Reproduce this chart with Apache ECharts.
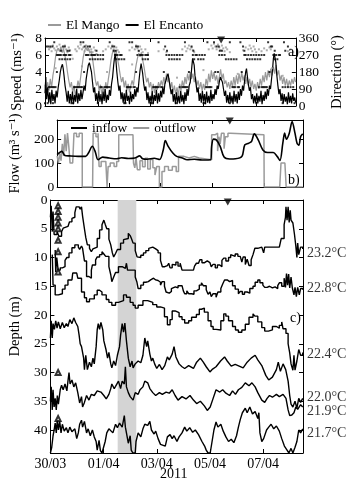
<!DOCTYPE html>
<html><head><meta charset="utf-8">
<script src="https://cdn.jsdelivr.net/npm/echarts@6/dist/echarts.min.js"></script>
<style>html,body{margin:0;padding:0;background:#fff}#c{width:353px;height:481px}</style>
</head><body><div id="c"></div>
<script>
// ---------- DATA (time in days since 30/03 00:00) ----------
const xTickDays = [0, 2, 4, 6, 8];
const xTickLabels = ['30/03', '01/04', '03/04', '05/04', '07/04'];
const markerDay = 6.67;           // ▼ marker
const shadeDays = [2.53, 3.23];   // grey band

// Panel a: wind speed (m/s)
const encantoSpeed = [
[0,1.5],[0.03,3.4],[0.06,0.8],[0.1,2.2],[0.14,0.4],[0.18,1.6],[0.22,0.2],[0.26,1.9],[0.3,0.6],[0.34,1.4],[0.38,0.3],[0.42,1.8],[0.46,1.0],[0.5,2.2],[0.54,3.0],[0.58,4.0],[0.62,4.6],[0.66,4.9],[0.69,4.4],[0.72,3.6],[0.76,2.4],[0.8,1.6],[0.84,0.5],[0.88,1.8],[0.92,0.3],[0.96,1.4],
[1.0,0.4],[1.04,1.7],[1.08,0.2],[1.12,1.3],[1.16,0.5],[1.2,2.0],[1.24,0.3],[1.28,1.5],[1.32,0.6],[1.36,1.9],[1.4,0.8],[1.44,1.6],[1.48,2.4],[1.52,1.8],[1.56,3.2],[1.6,4.0],[1.64,4.8],[1.68,5.1],[1.72,4.9],[1.76,4.0],[1.8,2.8],[1.84,1.6],[1.88,2.2],[1.92,0.6],[1.96,1.5],
[2.0,0.3],[2.04,1.8],[2.08,0.5],[2.12,1.4],[2.16,0.2],[2.2,1.7],[2.24,0.6],[2.28,2.0],[2.32,0.4],[2.36,1.3],[2.4,0.7],[2.44,1.9],[2.48,1.2],[2.52,2.6],[2.56,3.4],[2.6,4.8],[2.63,5.6],[2.66,6.1],[2.69,5.2],[2.72,4.0],[2.76,2.8],[2.8,1.8],[2.84,2.4],[2.88,0.8],[2.92,1.6],[2.96,0.4],
[3.0,1.5],[3.04,0.3],[3.08,1.9],[3.12,0.6],[3.16,1.2],[3.2,0.2],[3.24,1.7],[3.28,0.5],[3.32,1.4],[3.36,0.8],[3.4,2.0],[3.44,1.1],[3.48,2.2],[3.52,1.6],[3.56,3.0],[3.6,4.2],[3.64,5.0],[3.67,4.8],[3.7,3.8],[3.74,2.6],[3.78,1.8],[3.82,2.3],[3.86,0.7],[3.9,1.6],[3.94,0.3],[3.98,1.2],
[4.02,0.4],[4.06,1.8],[4.1,0.2],[4.14,1.3],[4.18,0.6],[4.22,1.9],[4.26,0.3],[4.3,1.5],[4.34,0.5],[4.38,1.8],[4.42,1.0],[4.46,2.2],[4.5,1.4],[4.54,2.6],[4.58,3.0],[4.62,3.5],[4.66,3.8],[4.7,3.0],[4.74,2.2],[4.78,1.4],[4.82,2.0],[4.86,0.5],[4.9,1.4],[4.94,0.2],[4.98,1.6],
[5.02,0.4],[5.06,1.2],[5.1,0.3],[5.14,1.8],[5.18,0.5],[5.22,1.3],[5.26,0.2],[5.3,1.6],[5.34,0.6],[5.38,2.0],[5.42,1.2],[5.46,2.4],[5.5,2.8],[5.53,3.6],[5.56,4.6],[5.59,5.6],[5.62,5.8],[5.65,4.8],[5.68,3.6],[5.72,2.6],[5.76,1.6],[5.8,2.2],[5.84,0.6],[5.88,1.5],[5.92,0.4],[5.96,1.8],
[6.0,0.5],[6.04,1.4],[6.08,0.2],[6.12,1.7],[6.16,0.4],[6.2,1.2],[6.24,0.3],[6.28,1.9],[6.32,0.6],[6.36,1.4],[6.4,0.8],[6.44,2.0],[6.48,1.3],[6.52,2.4],[6.56,2.0],[6.6,2.8],[6.64,3.4],[6.68,3.6],[6.72,2.8],[6.76,2.0],[6.8,1.2],[6.84,1.8],[6.88,0.4],[6.92,1.3],[6.96,0.3],
[7.0,1.6],[7.04,0.4],[7.08,1.2],[7.12,0.2],[7.16,1.8],[7.2,0.5],[7.24,1.4],[7.28,0.3],[7.32,1.7],[7.36,0.7],[7.4,2.0],[7.44,1.2],[7.48,2.4],[7.52,1.8],[7.56,3.0],[7.6,4.0],[7.63,4.4],[7.66,3.6],[7.7,2.6],[7.74,1.8],[7.78,2.2],[7.82,0.8],[7.86,1.4],[7.9,0.3],[7.94,1.2],[7.98,0.4],
[8.02,1.5],[8.06,0.3],[8.1,1.2],[8.14,0.5],[8.18,1.8],[8.22,0.2],[8.26,1.3],[8.3,0.6],[8.34,1.7],[8.38,0.8],[8.42,2.0],[8.46,1.2],[8.5,2.4],[8.54,2.0],[8.58,3.2],[8.62,4.4],[8.65,5.6],[8.68,6.2],[8.71,6.4],[8.74,5.2],[8.78,3.6],[8.82,2.4],[8.86,1.4],[8.9,2.0],[8.94,0.6],[8.98,1.5],
[9.02,0.3],[9.06,1.4],[9.1,0.5],[9.14,1.1],[9.18,0.2],[9.22,1.6],[9.26,0.4],[9.3,1.2],[9.34,0.3],[9.38,1.5],[9.42,0.6],[9.46,1.0],[9.49,0.4]
];
const mangoSpeed = [
[0,2.5],[0.05,1.5],[0.1,2.8],[0.15,1.8],[0.2,3.2],[0.25,2.2],[0.3,3.6],[0.35,4.5],[0.4,5.8],[0.45,6.5],[0.5,6.8],[0.55,6.4],[0.6,6.9],[0.65,6.3],[0.7,6.7],[0.75,6.0],[0.8,5.2],[0.85,4.0],[0.9,3.0],[0.95,2.2],
[1.0,2.8],[1.05,1.6],[1.1,2.4],[1.15,1.2],[1.2,2.0],[1.25,3.0],[1.3,2.2],[1.35,3.4],[1.4,4.6],[1.45,5.8],[1.5,6.5],[1.55,6.9],[1.6,6.5],[1.65,6.8],[1.7,6.2],[1.75,6.5],[1.8,5.6],[1.85,4.4],[1.9,3.2],[1.95,2.4],
[2.0,2.9],[2.05,1.8],[2.1,2.5],[2.15,1.4],[2.2,2.2],[2.25,1.5],[2.3,2.8],[2.35,2.0],[2.4,3.2],[2.45,4.2],[2.5,5.4],[2.55,6.2],[2.6,6.6],[2.65,6.0],[2.7,6.4],[2.75,5.5],[2.8,4.6],[2.85,3.6],[2.9,2.8],[2.95,3.4],
[3.0,2.2],[3.05,3.0],[3.1,1.8],[3.15,2.6],[3.2,1.6],[3.25,2.4],[3.3,3.0],[3.35,2.4],[3.4,3.8],[3.45,4.8],[3.5,5.6],[3.55,6.2],[3.6,5.8],[3.65,6.3],[3.7,5.4],[3.75,4.6],[3.8,3.6],[3.85,2.8],[3.9,3.3],[3.95,2.2],
[4.0,2.8],[4.05,1.8],[4.1,2.6],[4.15,1.5],[4.2,2.4],[4.25,1.9],[4.3,2.8],[4.35,2.2],[4.4,3.0],[4.45,2.4],[4.5,3.4],[4.55,2.6],[4.6,3.8],[4.65,2.8],[4.7,3.3],[4.75,2.0],[4.8,2.8],[4.85,1.6],[4.9,2.4],[4.95,1.4],
[5.0,2.2],[5.05,1.2],[5.1,2.6],[5.15,1.8],[5.2,3.0],[5.25,2.2],[5.3,3.4],[5.35,2.6],[5.4,3.8],[5.45,3.0],[5.5,4.0],[5.55,3.2],[5.6,3.8],[5.65,2.8],[5.7,3.4],[5.75,2.4],[5.8,3.0],[5.85,2.0],[5.9,2.8],[5.95,1.8],
[6.0,2.6],[6.05,1.9],[6.1,3.2],[6.15,2.4],[6.2,3.8],[6.25,2.8],[6.3,4.2],[6.35,3.2],[6.4,4.0],[6.45,3.0],[6.5,3.6],[6.55,2.6],[6.6,3.4],[6.65,4.3],[6.7,3.2],[6.75,3.8],[6.8,2.6],[6.85,3.0],[6.9,2.2],[6.95,2.8],
[7.0,2.0],[7.05,3.0],[7.1,2.2],[7.15,3.4],[7.2,2.4],[7.25,3.6],[7.3,2.6],[7.35,3.8],[7.4,2.8],[7.45,4.0],[7.5,3.0],[7.55,3.6],[7.6,2.6],[7.65,3.4],[7.7,2.4],[7.75,3.2],[7.8,2.2],[7.85,3.0],[7.9,2.0],[7.95,2.6],
[8.0,1.8],[8.05,2.8],[8.1,2.0],[8.15,3.2],[8.2,2.4],[8.25,3.6],[8.3,2.8],[8.35,4.0],[8.4,3.0],[8.45,4.2],[8.5,3.4],[8.55,4.4],[8.6,3.6],[8.65,4.6],[8.7,3.8],[8.75,4.8],[8.8,3.6],[8.85,4.2],[8.9,3.0],[8.95,3.6],
[9.0,2.6],[9.05,3.4],[9.1,2.4],[9.15,3.2],[9.2,2.2],[9.25,3.0],[9.3,2.4],[9.35,3.2],[9.4,2.6],[9.45,3.4],[9.49,2.8]
];
// Panel a: wind direction (deg), El Encanto as rows of [direction, days]
const encantoDirRows = [
 [337.5, [0.35,1.35,1.45,2.45,3.2,3.3,4.3,5.3,6.15,6.4,7.0,7.4,8.45,9.05]],
 [315, [0.05,0.12,0.2,0.28,0.68,0.75,1.5,1.62,1.7,2.55,2.62,3.45,3.52,4.55,5.55,6.5,6.58,7.5,8.55,8.6,9.2]],
 [292.5, [0.6,0.85,0.92,1.95,2.6,2.68,3.55,4.62,5.62,6.62,6.7,7.55,8.7,9.1]],
 [270, [0.45,0.5,0.55,0.6,0.7,0.75,0.8,0.9,0.95,1.55,1.6,1.65,1.75,1.8,1.85,1.9,2.0,2.1,2.2,2.65,2.7,2.75,2.85,2.9,3.5,3.6,3.65,3.7,3.8,3.85,3.9,4.6,4.7,4.8,4.9,5.0,5.1,5.2,5.6,5.7,5.75,5.85,5.95,6.05,6.6,6.7,6.8,7.55,7.6,7.7,7.8,7.9,8.0,8.1,8.2,8.3,8.65,8.75,8.85,8.9]],
 [247.5, [0.55,0.65,0.75,0.85,0.95,1.7,1.8,1.9,2.0,2.1,2.2,2.7,2.8,2.9,3.0,3.7,3.8,3.9,4.7,4.8,4.9,5.0,5.1,5.65,5.8,5.9,6.0,6.85,6.95,7.05,7.15,7.25,7.65,7.75,7.85,7.95,8.05,8.15,8.7,8.8]],
 [180, [0.45,1.48,3.45,4.5,5.45,6.45,6.55,7.45,8.5]],
 [100, [0.15,0.2,0.25,0.3,0.35,0.4,1.1,1.15,1.2,1.25,1.3,1.35,1.4,2.1,2.15,2.25,2.3,2.35,2.4,2.45,3.1,3.15,3.2,3.25,3.35,3.4,4.1,4.15,4.2,4.25,4.3,4.4,4.45,5.1,5.2,5.25,5.3,5.35,5.4,6.1,6.15,6.2,6.25,6.3,7.1,7.15,7.2,7.3,7.35,8.1,8.2,8.25,8.3,8.35,8.4,9.0,9.1,9.2,9.3,9.4]],
 [15, [0.0,0.1,0.3,1.0,1.05,2.0,3.0,3.05,4.0,4.05,5.0,6.0,6.05,7.0,8.0,9.0,9.45]]
];
const mangoDir = [
[0.15,300],[0.2,310],[0.25,290],[0.3,320],[0.35,305],[0.4,295],[0.45,315],[0.5,300],[0.55,325],[0.6,310],[0.65,290],[0.7,305],[0.75,320],[0.8,300],[0.85,285],[0.9,310],[0.95,295],[1.0,270],[1.05,250],
[1.15,300],[1.2,290],[1.25,315],[1.3,305],[1.35,325],[1.4,300],[1.45,310],[1.5,290],[1.55,320],[1.6,305],[1.65,295],[1.7,315],[1.75,300],[1.8,285],[1.85,310],[1.9,295],[1.95,275],
[2.2,290],[2.3,300],[2.4,315],[2.5,305],[2.55,320],[2.6,300],[2.65,290],[2.7,310],[2.75,295],[2.8,285],[2.85,270],
[3.2,295],[3.3,310],[3.4,300],[3.45,320],[3.5,305],[3.55,290],[3.6,315],[3.65,300],[3.7,285],[3.8,300],[3.9,280],
[4.3,290],[4.5,300],[4.6,285],
[5.2,300],[5.3,315],[5.35,290],[5.4,305],[5.45,320],[5.5,300],[5.55,310],[5.6,295],[5.65,285],
[6.2,300],[6.3,320],[6.35,305],[6.4,330],[6.45,315],[6.5,300],[6.55,325],[6.6,310],[6.65,295],[6.7,320],[6.75,305],[6.8,290],[6.85,310],[6.9,300],[7.0,285],
[7.5,295],[7.6,310],[7.7,300],[7.75,320],[7.8,305],[7.85,290],[7.9,315],[7.95,300],[8.0,285],[8.1,300],[8.2,290],[8.3,305],[8.4,295],[8.5,310],[8.55,300],
[9.2,290],[9.3,300],[9.4,285],
[0.4,200],[1.4,210],[2.35,180],[3.3,220],[5.0,150],[6.0,190],[7.3,170],[8.6,200],[9.0,160]
];

// Panel b: flow (m3/s)
const inflow = [
[0,135],[0.18,149],[0.3,132],[0.48,130],[0.81,128],[1.1,128],[1.21,142],[1.36,170],[1.47,148],[1.58,114],[1.76,125],[2.01,121],[2.3,118],[2.49,122],[2.75,119],[3.0,121],[3.19,130],[3.3,118],[3.48,116],[3.75,120],[3.96,115],
[4.1,155],[4.18,194],[4.29,170],[4.47,142],[4.62,128],[4.84,121],[5.02,114],[5.3,116],[5.6,113],[5.93,114],[5.97,170],[6.04,200],[6.15,197],[6.3,170],[6.45,125],[6.67,117],[6.89,118],[7.14,128],[7.25,176],[7.4,183],[7.51,190],[7.62,222],[7.77,197],[7.95,155],[8.13,144],[8.35,144],[8.5,128],[8.61,111],[8.72,183],[8.79,225],[8.86,200],[8.97,225],[9.08,274],[9.19,225],[9.27,183],[9.34,175],[9.41,211],[9.49,222]
];
const outflow = [
[0,130],[0.05,100],[0.1,140],[0.15,110],[0.2,180],[0.25,130],[0.3,220],[0.35,150],[0.4,225],[0.45,170],[0.5,100],[0.6,95],[0.65,225],[0.75,210],[0.85,225],[0.97,0],[1.37,0],[1.39,225],[1.5,210],[1.58,225],[1.62,86],[1.7,107],[1.88,107],[1.93,0],[1.97,86],[2.05,100],[2.2,86],[2.3,107],[2.38,218],[2.93,218],[2.95,100],[3.0,80],[3.05,121],[3.1,72],[3.2,110],[3.3,85],[3.4,120],[3.5,75],[3.6,115],[3.7,80],[3.78,50],[3.85,86],[3.95,0],[4.05,65],[4.15,86],[4.3,70],[4.45,86],[4.6,65],[4.69,128],[4.9,121],[5.1,128],[5.3,121],[5.49,114],[5.97,218],[6.1,225],[6.2,150],[6.25,210],[6.3,180],[6.35,225],[6.45,160],[6.5,210],[6.6,225],[6.7,218],[7.99,218],[8.0,0],[8.6,0],[8.65,100],[8.8,100],[8.85,0],[9.49,0]
];

// Panel c: isotherm depths (m)
const iso232 = [[0,3],[0.03,1],[0.07,5.5],[0.1,2],[0.14,6],[0.18,6],[0.25,5.5],[0.32,6.3],[0.37,6.3],[0.42,5.5],[0.48,4.9],[0.55,4.6],[0.66,4.3],[0.72,3.8],[0.81,3.2],[0.88,3.0],[0.92,2.2],[0.97,1.2],[1.03,1.2],[1.08,1.0],[1.12,1.6],[1.17,1.2],[1.21,2.8],[1.28,5],[1.33,6.5],[1.39,7.8],[1.47,8.4],[1.54,9],[1.6,8.5],[1.65,8.2],[1.76,6.7],[1.85,5.2],[1.94,4.3],[2.01,3.5],[2.06,4.2],[2.12,5],[2.2,6.8],[2.27,7.8],[2.33,9.2],[2.38,9.9],[2.45,9.3],[2.52,8.6],[2.64,7.5],[2.75,6.9],[2.82,6.7],[2.93,5.8],[3.0,6.2],[3.04,6.6],[3.11,7.5],[3.19,8.8],[3.26,9.9],[3.33,10],[3.4,9.6],[3.5,9.2],[3.59,8.8],[3.7,8.4],[3.77,8.2],[3.85,8.5],[3.96,8.8],[4.05,9.2],[4.14,10.5],[4.21,11.6],[4.3,11.4],[4.4,11.6],[4.45,11.0],[4.5,11.8],[4.58,11.2],[4.65,11.3],[4.72,10.8],[4.8,11.5],[4.88,11.0],[4.95,12.2],[5.1,12.2],[5.25,12.2],[5.38,12.2],[5.42,11.5],[5.49,11.0],[5.57,10.8],[5.62,10.4],[5.7,10.9],[5.8,10.6],[5.9,10.9],[6.0,10.8],[6.05,11.6],[6.12,11.2],[6.2,11.8],[6.28,11.3],[6.37,11.6],[6.45,10.5],[6.52,10.1],[6.6,10.6],[6.7,10.0],[6.78,9.5],[6.85,9.8],[6.95,9.4],[7.05,9.8],[7.14,9.6],[7.2,10.8],[7.25,9.9],[7.33,11.2],[7.4,10.3],[7.47,11.4],[7.55,10.4],[7.62,9.5],[7.69,8.4],[7.8,8.2],[7.95,8.2],[8.02,9.2],[8.06,8.2],[8.3,8.2],[8.5,8.2],[8.61,8.2],[8.68,6.7],[8.79,4.3],[8.84,3],[8.86,1.2],[8.9,3.5],[8.94,1.2],[8.98,3.9],[9.02,1.8],[9.05,3.5],[9.12,4],[9.18,6],[9.23,8],[9.27,10],[9.3,7.5],[9.34,9.5],[9.41,8.2],[9.49,8.5]];
const iso228 = [[0.18,8.7],[0.2,12.5],[0.24,10],[0.29,12.2],[0.37,11.8],[0.45,11.6],[0.55,10.5],[0.62,10],[0.7,9.2],[0.81,8.3],[0.92,7.8],[0.99,7.8],[1.05,8.2],[1.1,8.6],[1.17,8.0],[1.21,8.4],[1.28,10.6],[1.36,13.3],[1.45,13.6],[1.54,12.2],[1.58,11.3],[1.7,10.4],[1.76,9.9],[1.85,9.5],[1.94,9.0],[2.01,9.4],[2.08,9.8],[2.2,11.6],[2.27,13],[2.31,14.2],[2.38,13.4],[2.45,12.6],[2.56,11.6],[2.7,11.9],[2.82,12.2],[2.86,11.0],[2.9,12.2],[3.0,12.2],[3.11,12.2],[3.19,13.4],[3.25,14.2],[3.3,15.4],[3.4,14.8],[3.5,14.3],[3.59,14.2],[3.68,13.9],[3.77,13.6],[3.88,13.9],[3.96,14.0],[4.05,14.3],[4.14,14.8],[4.2,14.2],[4.29,15.0],[4.35,16.0],[4.40,16.2],[4.47,15.9],[4.55,15.4],[4.6,15.1],[4.7,15.3],[4.8,14.9],[4.95,15.0],[5.0,15.8],[5.05,16.3],[5.13,15.8],[5.2,16.3],[5.31,16.4],[5.4,15.8],[5.49,15.5],[5.6,14.8],[5.68,14.4],[5.75,14.9],[5.86,15.6],[5.93,16.4],[6.0,16.0],[6.05,16.8],[6.12,16.3],[6.23,16.9],[6.3,16.0],[6.41,15.4],[6.48,14.6],[6.55,13.9],[6.65,14.2],[6.74,14.0],[6.85,14.9],[6.95,15.5],[7.07,16.3],[7.14,15.9],[7.22,16.4],[7.3,16.0],[7.4,16.2],[7.5,15.4],[7.62,15.0],[7.7,14.3],[7.8,13.9],[7.88,14.4],[7.99,14.8],[8.06,15.2],[8.15,15.0],[8.24,15.3],[8.35,15.1],[8.45,15.4],[8.55,14.9],[8.61,14.4],[8.7,15.0],[8.79,13.6],[8.84,15.2],[8.88,12.8],[8.92,14.8],[8.96,12.9],[9.0,15.3],[9.05,13.4],[9.1,15.3],[9.16,16.5],[9.2,15.2],[9.25,16.8],[9.3,15.2],[9.36,16.5],[9.41,15.4],[9.49,15.6]];
const iso224 = [[0.07,9.5],[0.1,14.8],[0.18,16.5],[0.3,16.3],[0.45,15.5],[0.55,14.8],[0.66,13.9],[0.81,13.6],[0.84,12.7],[0.99,12.7],[1.03,13.6],[1.17,16],[1.28,17],[1.36,17.7],[1.47,17.2],[1.65,16.5],[1.76,15.7],[1.85,16],[1.94,16.5],[2.1,17.3],[2.2,17.8],[2.31,18.3],[2.45,17.8],[2.56,17.5],[2.75,16.5],[2.86,16.9],[3.0,17.8],[3.11,18.3],[3.19,18.8],[3.3,18.3],[3.48,17.5],[3.66,17.8],[3.85,18.2],[4.0,18.6],[4.14,18.8],[4.29,20.3],[4.4,21.7],[4.5,20.8],[4.58,19.3],[4.69,19.6],[4.84,20.3],[4.95,20.8],[5.05,21.4],[5.2,21.0],[5.31,20.4],[5.49,19.9],[5.6,19.0],[5.68,18.8],[5.79,19.5],[5.93,21.0],[6.04,22.0],[6.12,22.5],[6.23,22.6],[6.41,21.0],[6.52,19.8],[6.6,20.2],[6.7,21.0],[6.85,22.0],[6.96,22.6],[7.07,23.0],[7.2,22.6],[7.33,21.6],[7.47,20.4],[7.62,19.8],[7.69,20.2],[7.8,21.2],[7.95,22.2],[8.06,22.8],[8.2,22.6],[8.35,22.0],[8.5,22.3],[8.61,21.8],[8.7,21.2],[8.75,22.4],[8.86,23.2],[8.94,25],[9.0,26.6],[9.05,28.5],[9.12,29.6],[9.16,27],[9.2,29.6],[9.27,28],[9.34,26],[9.41,27],[9.49,26.5]];
const iso220 = [[0,24],[0.03,21],[0.07,24],[0.1,21.5],[0.15,22.5],[0.2,21],[0.25,22.3],[0.3,21.2],[0.37,22.4],[0.45,21.3],[0.52,22.2],[0.6,21.5],[0.66,22.0],[0.73,20.8],[0.81,21.5],[0.88,20.5],[0.95,21.3],[1.03,22.0],[1.08,23.5],[1.12,25.0],[1.17,25.5],[1.25,27.5],[1.28,29.5],[1.33,27.0],[1.39,29.5],[1.47,28.2],[1.54,29.0],[1.6,27.5],[1.65,28.5],[1.72,25.5],[1.76,22.6],[1.8,21.5],[1.85,22.5],[1.9,21.3],[1.97,22.6],[2.01,24.5],[2.09,26.0],[2.15,27.5],[2.2,26.5],[2.27,28.5],[2.31,29.2],[2.38,28.0],[2.45,28.8],[2.52,27.0],[2.6,25.5],[2.64,23.5],[2.7,21.5],[2.75,23.0],[2.8,21.4],[2.86,24.5],[2.93,27.5],[3.0,29.0],[3.07,28.0],[3.11,29.2],[3.19,28.5],[3.3,28.0],[3.4,28.3],[3.48,27.0],[3.55,24.0],[3.62,25.5],[3.66,24.5],[3.74,26.8],[3.8,28.0],[3.85,27.5],[3.92,28.5],[4.0,29.3],[4.1,28.6],[4.2,29.5],[4.3,28.8],[4.4,27.3],[4.47,27.8],[4.58,26.8],[4.65,25.5],[4.72,27.3],[4.84,28.5],[4.95,29.0],[5.05,29.3],[5.2,28.8],[5.38,29.3],[5.5,28.2],[5.64,27.5],[5.75,28.2],[5.86,29.0],[6.0,29.9],[6.1,29.4],[6.23,29.0],[6.4,28.0],[6.55,27.3],[6.65,28.0],[6.8,28.9],[6.95,28.6],[7.1,28.9],[7.25,29.2],[7.4,28.2],[7.55,27.5],[7.7,27.0],[7.8,27.8],[7.95,28.8],[8.1,30.5],[8.21,31.3],[8.35,30.8],[8.5,29.5],[8.57,28.2],[8.65,29.8],[8.75,28.5],[8.85,29.5],[8.94,31.5],[9.0,34.0],[9.05,35.5],[9.12,36.0],[9.2,35.0],[9.27,36.2],[9.34,34.5],[9.41,35.2],[9.49,34.5]];
const iso219 = [[0.0,35],[0.03,32.5],[0.07,36.5],[0.1,33],[0.14,36],[0.18,34.5],[0.22,36.5],[0.26,34.0],[0.3,35.5],[0.37,33.0],[0.42,32.2],[0.48,33.0],[0.55,32.0],[0.62,33.2],[0.66,31.5],[0.7,30.0],[0.74,32.0],[0.81,31.3],[0.88,32.5],[0.95,31.8],[1.03,33.5],[1.1,35.3],[1.17,34.2],[1.21,36.0],[1.28,35.2],[1.36,34.0],[1.45,34.8],[1.54,33.8],[1.65,34.0],[1.76,33.2],[1.9,33.4],[2.01,34.0],[2.1,34.6],[2.2,33.8],[2.27,32.8],[2.31,32.0],[2.4,32.8],[2.45,32.4],[2.56,31.5],[2.64,32.8],[2.7,31.5],[2.78,32.0],[2.82,29.0],[2.86,32.5],[2.93,33.5],[3.0,34.2],[3.11,34.8],[3.19,33.5],[3.3,33.8],[3.37,33.0],[3.48,32.5],[3.55,31.5],[3.66,31.8],[3.74,32.8],[3.85,33.5],[3.96,34.0],[4.1,33.5],[4.21,33.8],[4.35,33.4],[4.47,33.6],[4.58,33.0],[4.69,34.0],[4.8,34.8],[4.95,34.2],[5.1,34.6],[5.25,34.0],[5.38,34.8],[5.5,35.4],[5.64,35.0],[5.79,35.8],[5.9,36.6],[6.01,36.0],[6.12,34.5],[6.23,33.0],[6.37,33.4],[6.48,33.0],[6.6,33.6],[6.74,34.0],[6.85,33.2],[6.96,33.8],[7.07,33.0],[7.2,32.6],[7.33,31.8],[7.47,32.3],[7.58,31.8],[7.7,32.5],[7.8,33.5],[7.95,34.8],[8.06,35.2],[8.15,34.5],[8.24,34.0],[8.35,34.3],[8.5,33.8],[8.61,34.2],[8.75,33.8],[8.86,34.5],[8.94,36.5],[9.0,37.5],[9.08,37.4],[9.16,37.0],[9.23,36.0],[9.3,36.4],[9.41,35.6],[9.49,36.0]];
const iso217 = [[0.0,44],[0.05,43],[0.1,41],[0.14,40],[0.18,38.8],[0.22,40.5],[0.26,38.2],[0.3,40],[0.35,38.5],[0.4,40.5],[0.45,39],[0.52,40.2],[0.6,39.6],[0.66,40.5],[0.73,39.5],[0.81,40.3],[0.92,39.8],[0.99,41.5],[1.05,40.5],[1.1,39],[1.17,38.3],[1.21,39.5],[1.28,38.5],[1.36,40.5],[1.42,39.8],[1.5,41],[1.58,40],[1.65,41.2],[1.72,42],[1.76,43.5],[1.83,41.8],[1.88,43.6],[1.94,44],[2.01,44],[2.06,42],[2.12,40.5],[2.2,39.8],[2.27,39.5],[2.35,40.5],[2.45,39.0],[2.52,39.6],[2.6,38.8],[2.7,39.5],[2.78,37.5],[2.82,39.5],[2.86,40.5],[2.93,42.3],[3.0,41.0],[3.04,43.5],[3.1,44],[3.19,44],[3.22,42],[3.3,40.5],[3.4,41.2],[3.48,39.8],[3.55,39.0],[3.66,39.2],[3.74,38.5],[3.8,40.0],[3.9,40.7],[3.96,40.2],[4.05,41.5],[4.14,42.5],[4.21,42.2],[4.32,42.8],[4.4,41.2],[4.5,40.8],[4.58,41.5],[4.65,41.0],[4.76,42.0],[4.84,41.2],[4.95,40.5],[5.05,39.5],[5.13,40.2],[5.24,39.6],[5.35,40.4],[5.45,40.0],[5.57,40.8],[5.7,42.0],[5.8,42.8],[5.86,43.5],[5.93,44],[6.01,44],[6.08,42.0],[6.15,40.0],[6.23,38.6],[6.3,39.5],[6.41,39.0],[6.5,40.2],[6.6,41.2],[6.7,42.0],[6.8,41.6],[6.9,42.2],[7.0,41.0],[7.07,39.5],[7.14,38.2],[7.22,37.0],[7.33,36.2],[7.4,37.0],[7.5,36.0],[7.6,37.2],[7.7,36.8],[7.8,38.0],[7.84,37.0],[7.88,40.5],[7.95,42.0],[8.02,41.5],[8.13,40.0],[8.21,39.5],[8.3,39.0],[8.4,39.8],[8.5,39.3],[8.61,40.2],[8.7,41.5],[8.8,42.8],[8.9,43.5],[8.97,44],[9.05,43.2],[9.12,44],[9.2,43.0],[9.27,42.0],[9.34,40.0],[9.41,40.5],[9.49,39.8]];
const thermistorDay = 0.29;
const thermistorDepths = [1, 2, 3, 4, 5, 7, 9, 12.5, 30, 38];
const tempLabels = ['23.2°C', '22.8°C', '22.4°C', '22.0°C', '21.9°C', '21.7°C'];
const tempLabelDepths = [9.2, 15.3, 26.8, 34.3, 36.7, 40.5];

// ---------- CHART ----------
const FONT = "'Liberation Serif','DejaVu Serif',serif";
const X_MAX = 9.5;
const GREY = '#9a9a9a';
const chart = echarts.init(document.getElementById('c'), null, {renderer: 'canvas'});

function xAx(grid, pos, labels) {
  return {
    type: 'value', gridIndex: grid, position: pos, min: 0, max: X_MAX, interval: 2,
    axisLine: {show: true, onZero: false, lineStyle: {color: '#000', width: 1}},
    axisTick: {show: true, inside: true, length: 4, lineStyle: {color: '#000'}},
    axisLabel: {show: labels, color: '#000', fontFamily: FONT, fontSize: 14, margin: 4,
      formatter: v => { const i = xTickDays.indexOf(v); return i >= 0 ? xTickLabels[i] : ''; }},
    splitLine: {show: false}
  };
}
function yAx(grid, pos, min, max, interval, opts) {
  return Object.assign({
    type: 'value', gridIndex: grid, position: pos, min, max, interval,
    axisLine: {show: true, onZero: false, lineStyle: {color: '#000', width: 1}},
    axisTick: {show: true, inside: true, length: 4, lineStyle: {color: '#000'}},
    axisLabel: {show: true, color: '#000', fontFamily: FONT, fontSize: 13.5, margin: 3,
      formatter: v => (v % interval === 0 ? String(v) : '')},
    splitLine: {show: false},
    nameLocation: 'middle', nameRotate: 90,
    nameTextStyle: {color: '#000', fontFamily: FONT, fontSize: 14.5}
  }, opts || {});
}

const encDirPts = [];
encantoDirRows.forEach(r => r[1].forEach(d => encDirPts.push([d, r[0]])));

const isoSets = [iso232, iso228, iso224, iso220, iso219, iso217];
const isoSeries = isoSets.map((d, i) => ({
  type: 'line', xAxisIndex: 4, yAxisIndex: 4, data: d, symbol: 'none',
  step: i < 3 ? 'end' : false,
  lineStyle: {color: '#000', width: 1.4}, z: 3, silent: true
}));

const option = {
  animation: false,
  backgroundColor: '#fff',
  textStyle: {fontFamily: FONT},
  grid: [
    {left: 45, right: 50, top: 38, height: 68},
    {left: 45, right: 50, top: 120, height: 67},
    {left: 45, right: 50, top: 200, height: 253}
  ],
  legend: [
    {data: ['El Mango', 'El Encanto'], left: 48, top: 18, padding: 0, itemGap: 6, itemWidth: 13, itemHeight: 2,
     icon: 'rect', textStyle: {fontFamily: FONT, fontSize: 13.5, color: '#000'}},
    {data: ['inflow', 'outflow'], left: 71, top: 121, padding: 0, itemGap: 6, itemWidth: 16, itemHeight: 2,
     icon: 'rect', textStyle: {fontFamily: FONT, fontSize: 13.5, color: '#000'}}
  ],
  xAxis: [xAx(0, 'bottom', false), xAx(0, 'top', false), xAx(1, 'bottom', false), xAx(1, 'top', false), xAx(2, 'bottom', true), xAx(2, 'top', false)],
  yAxis: [
    yAx(0, 'left', 0, 8, 2, {name: 'Speed (ms⁻¹)', nameGap: 15}),
    yAx(0, 'right', 0, 360, 90, {name: 'Direction (°)', nameGap: 30, nameRotate: 90}),
    yAx(1, 'left', 0, 280, 100, {name: 'Flow (m³ s⁻¹)', nameGap: 22}),
    yAx(1, 'right', 0, 280, 100, {axisLabel: {show: false}}),
    yAx(2, 'left', 0, 44, 5, {inverse: true, name: 'Depth (m)', nameGap: 22}),
    yAx(2, 'right', 0, 44, 5, {inverse: true, axisLabel: {show: false}})
  ],
  graphic: [
    {type: 'text', left: 288, top: 45, style: {text: 'a)', font: "14px 'Liberation Serif'", fill: '#000'}, z: 100},
    {type: 'text', left: 288, top: 173, style: {text: 'b)', font: "14px 'Liberation Serif'", fill: '#000'}, z: 100},
    {type: 'text', left: 290, top: 311, style: {text: 'c)', font: "14px 'Liberation Serif'", fill: '#000'}, z: 100},
    {type: 'text', left: 160, top: 467, style: {text: '2011', font: "14px 'Liberation Serif'", fill: '#000'}, z: 100}
  ],
  series: [
    {name: 'El Mango', type: 'line', xAxisIndex: 0, yAxisIndex: 0, data: mangoSpeed, symbol: 'none',
     lineStyle: {color: GREY, width: 1.2}, itemStyle: {color: GREY}, z: 2},
    {name: 'El Encanto', type: 'line', xAxisIndex: 0, yAxisIndex: 0, data: encantoSpeed, symbol: 'none',
     lineStyle: {color: '#000', width: 1.2}, itemStyle: {color: '#000'}, z: 3},
    {type: 'scatter', xAxisIndex: 0, yAxisIndex: 1, data: mangoDir, symbol: 'rect', symbolSize: 2,
     itemStyle: {color: GREY}, z: 4, silent: true},
    {type: 'scatter', xAxisIndex: 0, yAxisIndex: 1, data: encDirPts, symbol: 'rect', symbolSize: 2,
     itemStyle: {color: '#000'}, z: 5, silent: true},
    {type: 'scatter', xAxisIndex: 0, yAxisIndex: 0, data: [[markerDay, 8]], symbol: 'triangle', symbolRotate: 180,
     symbolSize: [8, 7], symbolOffset: [0, 2], itemStyle: {color: '#000'}, clip: false, z: 10, silent: true},

    {name: 'outflow', type: 'line', xAxisIndex: 2, yAxisIndex: 2, data: outflow, symbol: 'none', step: 'end',
     lineStyle: {color: GREY, width: 1.5}, itemStyle: {color: GREY}, z: 2},
    {name: 'inflow', type: 'line', xAxisIndex: 2, yAxisIndex: 2, data: inflow, symbol: 'none', smooth: 0.3,
     lineStyle: {color: '#000', width: 1.6}, itemStyle: {color: '#000'}, z: 3},
    {type: 'scatter', xAxisIndex: 2, yAxisIndex: 2, data: [[markerDay, 280]], symbol: 'triangle', symbolRotate: 180,
     symbolSize: [8, 7], symbolOffset: [0, 1], itemStyle: {color: '#000'}, clip: false, z: 10, silent: true},

    {type: 'line', xAxisIndex: 4, yAxisIndex: 4, data: [], z: 1, silent: true,
     markArea: {silent: true, itemStyle: {color: '#d4d4d4'}, data: [[{xAxis: shadeDays[0]}, {xAxis: shadeDays[1]}]]}},
    ...isoSeries,
    {type: 'scatter', xAxisIndex: 4, yAxisIndex: 4, data: thermistorDepths.map(d => [thermistorDay, d]),
     symbol: 'emptyTriangle', symbolSize: 5, itemStyle: {color: '#000', borderColor: '#000'}, z: 6, silent: true},
    {type: 'scatter', xAxisIndex: 4, yAxisIndex: 4, data: [[markerDay, 0]], symbol: 'triangle', symbolRotate: 180,
     symbolSize: [8, 7], symbolOffset: [0, 2], itemStyle: {color: '#000'}, clip: false, z: 10, silent: true},
    {type: 'scatter', xAxisIndex: 4, yAxisIndex: 4, data: tempLabelDepths.map((d, i) => ({value: [X_MAX, d], label: {formatter: tempLabels[i]}})),
     symbolSize: 0, clip: false, silent: true,
     label: {show: true, position: 'right', distance: 4, color: '#000', fontFamily: FONT, fontSize: 14}}
  ]
};
chart.setOption(option);
</script></body></html>
